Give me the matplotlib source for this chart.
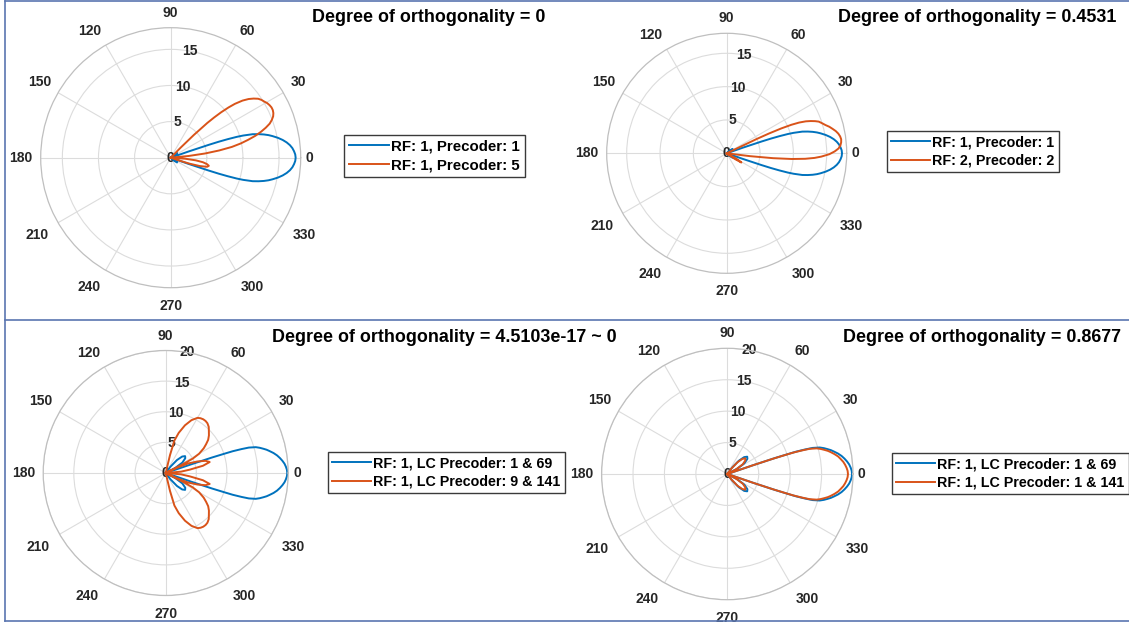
import numpy as np
import matplotlib.pyplot as plt
from matplotlib.lines import Line2D

W, H = 1129, 623
BLUE = '#0072BD'
ORANGE = '#D95319'
TEXT = '#262626'
FONT = 'Liberation Sans'

# beam gain patterns, angle in degrees vs gain

# RF: 1, Precoder: 1 (same beam in both upper plots)
p1_theta = [-90, -45, -42, -37, -32, -27, -24,
            -19.5, -19.2, -18.7, -18.4, -18, -17.5, -17, -16, -15, -14, -13, -12, -10.5, -9, -7.5, -6, -4.5, -3, -1.5,
            0, 1.5, 3, 4.5, 6, 7.5, 9, 10.5, 12, 13, 14, 15, 16, 17, 17.5, 18, 18.4, 18.7, 19.2, 19.5,
            24, 27, 32, 37, 42, 45, 90]
p1_gain = [0, 0, 0.6, 1.1, 1.0, 0.5, 0,
           0, 2.5, 5.5, 7.0, 8.3, 9.6, 10.5, 11.8, 12.6, 13.3, 13.9, 14.4, 15.1, 15.7, 16.2, 16.6, 16.9, 17.1, 17.25,
           17.3, 17.25, 17.1, 16.9, 16.6, 16.2, 15.7, 15.1, 14.4, 13.9, 13.3, 12.6, 11.8, 10.5, 9.6, 8.3, 7.0, 5.5, 2.5, 0,
           0, 0.5, 1.0, 1.1, 0.6, 0, 0]

# RF: 1, Precoder: 5
p5_theta = [-90, -19, -18.5, -17.5, -16, -14, -12, -10, -8, -6, -4, -2,
            4.5, 5.5, 7, 8.5, 10, 11.5, 13, 14.5, 16, 17.5, 19, 20.5, 22, 23.5, 25, 26.5, 28, 29.5, 31, 32.5,
            34, 35.5, 37, 38.5, 40, 41, 42, 42.8, 43.5, 44.5, 45.3, 45.8, 90]
p5_gain = [0, 0, 1.2, 2.8, 4.2, 5.2, 5.4, 5.1, 4.5, 3.5, 2.0, 0,
           0, 2.5, 4.8, 6.8, 8.6, 9.9, 11.0, 12.1, 13.0, 13.8, 14.5, 14.95, 15.3, 15.5, 15.6, 15.6, 15.5, 15.35,
           15.1, 14.9, 14.6, 14.1, 13.5, 12.7, 11.6, 10.6, 9.4, 8.2, 7.0, 4.5, 2.0, 0, 0]

# RF: 2, Precoder: 2
p22_theta = [-90, -38, -35, -32, -29, -26,
             -7.5, -7, -6, -5, -4, -3, -2, -0.5, 1, 2.5, 4, 5.5, 7, 8.5, 10, 11.5, 13, 14.5, 16, 17.5, 19, 20,
             21, 22, 23, 23.8, 24.5, 25.1, 25.5, 26, 90]
p22_gain = [0, 0, 1.5, 2.6, 1.6, 0,
            0, 3.5, 7.0, 9.8, 11.8, 13.2, 14.2, 15.4, 16.2, 16.8, 17.1, 17.25, 17.3, 17.2, 17.0, 16.7, 16.3, 15.9,
            15.4, 15.0, 14.6, 14.1, 13.5, 12.8, 11.8, 10.6, 9.0, 7.0, 5.0, 0, 0]

# RF: 1, LC Precoder: 1 & 69 (same beam in both lower plots)
lc69_theta = [-90, -55, -53, -49, -45, -41, -37, -32, -28, -25,
              -19.1, -18.8, -18.5, -18.2, -18, -17.5, -17, -16, -15, -14, -13, -12, -10.5, -9, -7.5, -6, -4.5, -3,
              -1.5, 0, 1.5, 3, 4.5, 6, 7.5, 9, 10.5, 12, 13, 14, 15, 16, 17, 17.5, 18, 18.2, 18.5, 18.8, 19.1,
              25, 28, 32, 37, 41, 45, 49, 53, 55, 90]
lc69_gain = [0, 0, 1.3, 2.8, 3.8, 4.2, 4.0, 3.2, 1.8, 0,
             0, 4.5, 8.0, 10.0, 11.5, 13.0, 14.2, 15.3, 15.9, 16.4, 16.9, 17.3, 17.9, 18.4, 18.8, 19.15, 19.45, 19.65,
             19.8, 19.85, 19.8, 19.65, 19.45, 19.15, 18.8, 18.4, 17.9, 17.3, 16.9, 16.4, 15.9, 15.3, 14.2, 13.0,
             11.5, 10.0, 8.0, 4.5, 0,
             0, 1.8, 3.2, 4.0, 4.2, 3.8, 2.8, 1.3, 0, 0]

# RF: 1, LC Precoder: 9 & 141
lc9_theta = [-90, -77.5, -76.5, -75, -72, -68, -64, -60, -57.5, -55, -52.5, -50, -47, -44, -41, -38, -35.5,
             -33, -30, -28, -27, -26,
             -25, -23, -20, -17, -14, -11, -8, -5, -3,
             3, 5, 8, 11, 14, 17, 20, 23, 25,
             26, 27, 28, 30, 33, 35.5, 38, 41, 44, 47, 50, 52.5, 55, 57.5, 60, 64, 68, 72, 75, 76.5, 77.5, 90]
lc9_gain = [0, 0, 3.0, 5.5, 6.9, 8.4, 9.6, 10.4, 10.6, 10.7, 10.7, 10.6, 10.3, 9.8, 9.35, 8.8, 8.1,
            7.4, 6.3, 5.0, 3.0, 0,
            2.0, 4.0, 5.5, 6.8, 7.4, 6.2, 4.0, 2.5, 0,
            0, 2.5, 4.0, 6.2, 7.4, 6.8, 5.5, 4.0, 2.0,
            0, 3.0, 5.0, 6.3, 7.4, 8.1, 8.8, 9.35, 9.8, 10.3, 10.6, 10.7, 10.7, 10.6, 10.4, 9.6, 8.4, 6.9, 5.5,
            3.0, 0, 0]

# RF: 1, LC Precoder: 1 & 141
lc141_theta = [-90, -55, -53, -49, -45, -41, -37, -32, -28, -25,
               -19.1, -18.8, -18.5, -18.2, -18, -17.5, -17, -16, -15, -14, -13, -12, -10.5, -9, -7.5, -6, -4.5, -3,
               -1.5, 0, 1.5, 3, 4.5, 6, 7.5, 9, 10.5, 12, 13, 14, 15, 16, 17, 17.5, 18, 18.2, 18.5, 18.8, 19.1,
               25, 28, 32, 37, 41, 45, 49, 53, 55, 90]
lc141_gain = [0, 0, 1.1, 2.5, 3.4, 3.8, 3.6, 2.9, 1.6, 0,
              0, 4.2, 7.6, 9.5, 11.0, 12.5, 13.7, 14.8, 15.4, 15.9, 16.4, 16.8, 17.35, 17.85, 18.2, 18.55, 18.8, 19.0,
              19.15, 19.2, 19.15, 19.0, 18.8, 18.55, 18.2, 17.85, 17.35, 16.8, 16.4, 15.9, 15.4, 14.8, 13.7, 12.5,
              11.0, 9.5, 7.6, 4.2, 0,
              0, 1.6, 2.9, 3.6, 3.8, 3.4, 2.5, 1.1, 0, 0]

theta_ticks = list(range(0, 360, 30))

panels = [
    dict(c=(170.7, 157.7, 130), rmax=18, rticks=[0, 5, 10, 15],
         title='Degree of orthogonality = 0', tpos=(545, 22.5), lpos=(344, 135), lsize=10.8,
         series=[(p1_theta, p1_gain, BLUE, 'RF: 1, Precoder: 1'),
                 (p5_theta, p5_gain, ORANGE, 'RF: 1, Precoder: 5')]),
    dict(c=(726.7, 153.3, 120), rmax=18, rticks=[0, 5, 10, 15],
         title='Degree of orthogonality = 0.4531', tpos=(1116, 22.5), lpos=(887, 131), lsize=10.3,
         series=[(p1_theta, p1_gain, BLUE, 'RF: 1, Precoder: 1'),
                 (p22_theta, p22_gain, ORANGE, 'RF: 2, Precoder: 2')]),
    dict(c=(165.7, 473, 122.5), rmax=20, rticks=[0, 5, 10, 15, 20],
         title='Degree of orthogonality = 4.5103e-17 ~ 0', tpos=(617, 341.5), lpos=(328, 452), lsize=10.3,
         series=[(lc69_theta, lc69_gain, BLUE, 'RF: 1, LC Precoder: 1 & 69'),
                 (lc9_theta, lc9_gain, ORANGE, 'RF: 1, LC Precoder: 9 & 141')]),
    dict(c=(727.3, 474, 125.7), rmax=20, rticks=[0, 5, 10, 15, 20],
         title='Degree of orthogonality = 0.8677', tpos=(1121, 341.5), lpos=(892, 453), lsize=10.3,
         series=[(lc69_theta, lc69_gain, BLUE, 'RF: 1, LC Precoder: 1 & 69'),
                 (lc141_theta, lc141_gain, ORANGE, 'RF: 1, LC Precoder: 1 & 141')]),
]

fig = plt.figure(figsize=(W / 100, H / 100), dpi=100)
fig.patch.set_facecolor('white')

for p in panels:
    cx, cy, R = p['c']
    ax = fig.add_axes([(cx - R) / W, 1 - (cy + R) / H, 2 * R / W, 2 * R / H], projection='polar')
    for th, g, col, lab in p['series']:
        ax.plot(np.deg2rad(th), g, color=col, lw=1.4, label=lab)
    rmax = p['rmax']
    ax.set_rlim(0, rmax)

    # angle labels sit just outside the rim, anchored on the side facing the circle
    ax.set_thetagrids(theta_ticks, labels=[''] * len(theta_ticks))
    for a in theta_ticks:
        c, s = np.cos(np.deg2rad(a)), np.sin(np.deg2rad(a))
        ha = 'left' if c > 0.1 else ('right' if c < -0.1 else 'center')
        va = 'bottom' if s > 0.1 else ('top' if s < -0.1 else 'center')
        gap = 11 if s < -0.1 else (5 if a == 0 else 8)
        ax.text(np.deg2rad(a), rmax * (R + gap) / R, str(a), ha=ha, va=va, fontsize=10,
                fontweight='bold', color=TEXT, family=FONT, clip_on=False)

    ax.set_rticks(p['rticks'])
    ax.set_yticklabels([str(t) for t in p['rticks']], fontsize=10, fontweight='bold',
                       color=TEXT, family=FONT)
    ax.set_rlabel_position(80)
    for t in ax.get_yticklabels():
        t.set_ha('center')
        t.set_va('center')
    ax.tick_params(axis='y', pad=0)
    ax.grid(color='#dcdcdc', lw=0.8)
    ax.spines['polar'].set_color('#bfbfbf')
    ax.spines['polar'].set_linewidth(0.9)

    lx, ly = p['lpos']
    leg = ax.legend(loc='upper left', bbox_to_anchor=(lx / W, 1 - ly / H), bbox_transform=fig.transFigure,
                    borderaxespad=0, fancybox=False, framealpha=1, edgecolor='#3a3a3a',
                    handlelength=2.7, handletextpad=0.15, borderpad=0.3, labelspacing=0.3,
                    prop=dict(family=FONT, weight='bold', size=p['lsize']))
    leg.get_frame().set_linewidth(1.0)

    tx, ty = p['tpos']
    fig.text(tx / W, 1 - ty / H, p['title'], ha='right', va='baseline',
             fontsize=12.9, fontweight='bold', family=FONT, color='black')

# window frame lines around and between the two rows
frame = '#5a76b0'
for (x0, y0, x1, y1) in [(5, 1, W, 1), (5, 1, 5, 621), (5, 320, W, 320), (5, 621, W, 621)]:
    fig.add_artist(Line2D([x0 / W, x1 / W], [1 - y0 / H, 1 - y1 / H], transform=fig.transFigure,
                          color=frame, lw=1.2))

fig.savefig('out.png', dpi=100)
